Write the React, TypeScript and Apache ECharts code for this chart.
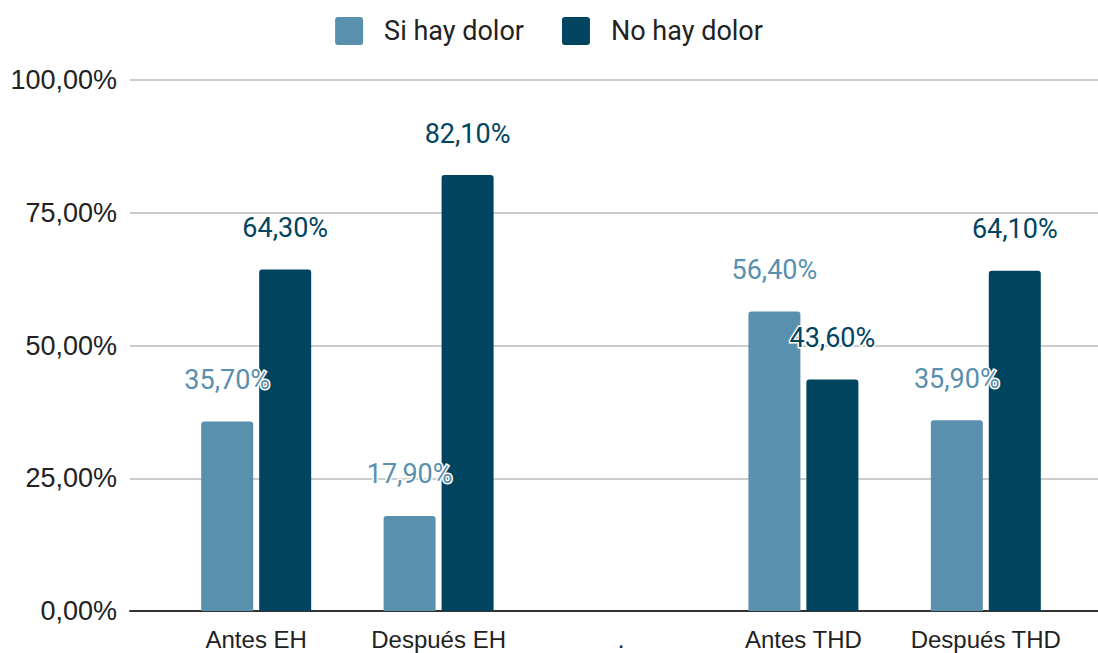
import React, { useEffect, useRef } from "react";
import * as echarts from "echarts";

const categories = ["Antes EH", "Después EH", ".", "Antes THD", "Después THD"];
const siHayDolor = [35.7, 17.9, null, 56.4, 35.9];
const noHayDolor = [64.3, 82.1, null, 43.6, 64.1];
const seriesNames = ["Si hay dolor", "No hay dolor"];
const colors = ["#5990AE", "#01445F"];

const fmt = (v: number) => v.toFixed(2).replace(".", ",") + "%";

const legendIcon =
  "path://M3,0 H25 A3,3 0 0 1 28,3 V25 A3,3 0 0 1 25,28 H3 A3,3 0 0 1 0,25 V3 A3,3 0 0 1 3,0 Z";

export default function App() {
  const ref = useRef<HTMLDivElement>(null);
  useEffect(() => {
    if (!ref.current) return;
    const chart = echarts.init(ref.current, null, { renderer: "svg" });
    const labelFor = (color: string) => ({
      show: true,
      position: "top",
      distance: 28,
      fontFamily: "Roboto",
      fontSize: 27,
      color,
      textBorderColor: "#fff",
      textBorderWidth: 3,
      formatter: (p: any) => fmt(p.value),
    });
    chart.setOption({
      animation: false,
      backgroundColor: "#fff",
      legend: {
        top: 12,
        left: "center",
        itemWidth: 28,
        itemHeight: 28,
        itemGap: 38,
        icon: legendIcon,
        textStyle: {
          fontFamily: "Roboto",
          fontSize: 27,
          color: "#222",
          padding: [0, 0, 0, 16],
        },
        data: seriesNames,
      },
      grid: [
        { left: 130, right: 0, top: 80, bottom: 42 },
        { left: 165, right: 21, top: 80, bottom: 42 },
      ],
      xAxis: [
        {
          gridIndex: 0,
          type: "value",
          min: 0,
          max: 1,
          axisLine: { show: true, lineStyle: { color: "#333", width: 2 } },
          axisTick: { show: false },
          axisLabel: { show: false },
          splitLine: { show: false },
        },
        {
          gridIndex: 1,
          type: "category",
          data: categories,
          axisLine: { show: false },
          axisTick: { show: false },
          axisLabel: {
            margin: 16,
            fontFamily: "'Liberation Sans', Arial, sans-serif",
            fontSize: 24,
            color: "#222",
            interval: 0,
          },
        },
      ],
      yAxis: [
        {
          gridIndex: 0,
          type: "value",
          min: 0,
          max: 100,
          interval: 25,
          axisLine: { show: false },
          axisTick: { show: false },
          axisLabel: {
            margin: 13,
            fontFamily: "'Liberation Sans', Arial, sans-serif",
            fontSize: 27,
            color: "#222",
            formatter: (v: number) => fmt(v),
          },
          splitLine: { show: true, lineStyle: { color: "#cccccc", width: 2 } },
        },
        {
          gridIndex: 1,
          type: "value",
          min: 0,
          max: 100,
          show: false,
          splitLine: { show: false },
        },
      ],
      series: [
        {
          name: seriesNames[0],
          type: "bar",
          xAxisIndex: 1,
          yAxisIndex: 1,
          data: siHayDolor,
          barWidth: 52,
          barGap: "11.5%",
          itemStyle: { color: colors[0], borderRadius: [3, 3, 0, 0] },
          label: labelFor(colors[0]),
        },
        {
          name: seriesNames[1],
          type: "bar",
          xAxisIndex: 1,
          yAxisIndex: 1,
          data: noHayDolor,
          barWidth: 52,
          barGap: "11.5%",
          itemStyle: { color: colors[1], borderRadius: [3, 3, 0, 0] },
          label: labelFor(colors[1]),
        },
      ],
    });
    return () => chart.dispose();
  }, []);
  return (
    <div
      ref={ref}
      style={{ position: "fixed", left: 0, top: 0, width: 1098, height: 653 }}
    />
  );
}
